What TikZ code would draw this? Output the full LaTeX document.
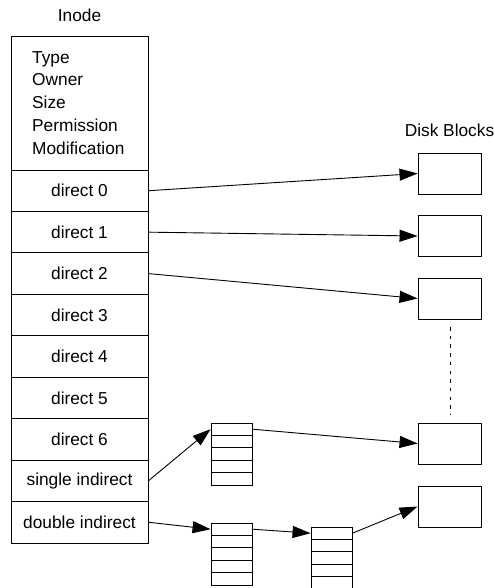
\documentclass[tikz,border=0pt]{standalone}
\usepackage{fontspec}
\setmainfont{Liberation Sans}
\usetikzlibrary{arrows.meta}
\begin{document}
\begin{tikzpicture}[x=1pt,y=-1pt,
  every node/.style={font=\fontsize{17.3}{20}\selectfont, inner sep=0pt},
  line/.style={line width=0.9pt},
  rowbox/.style={draw, line width=0.9pt, minimum width=137pt, minimum height=41.44pt},
  diskbox/.style={draw, line width=0.9pt, minimum width=63pt, minimum height=41pt},
  cell/.style={draw, line width=0.9pt, minimum width=41pt, minimum height=12.4pt},
  arr/.style={line width=0.9pt, -{Triangle[length=18pt,width=12pt]}},
  txt/.style={anchor=base west}
]
\useasboundingbox (0,0) rectangle (493,588);

% labels
\node[anchor=base] (inodelbl) at (79.5,22) {Inode};
\node[anchor=base] (disklbl) at (449.5,137) {Disk Blocks};

% inode header
\node[draw, line width=0.9pt, minimum width=137pt, minimum height=134pt, anchor=north west] (hdr) at (11,36) {};
\node[txt] (t1) at (32,63.3) {Type};
\node[txt] (t2) at (32,86) {Owner};
\node[txt] (t3) at (32,108.8) {Size};
\node[txt] (t4) at (32,131.6) {Permission};
\node[txt] (t5) at (32,154.3) {Modification};

% inode rows
\node[rowbox] (r0) at (79.5,190.72) {direct 0};
\node[rowbox] (r1) at (79.5,232.16) {direct 1};
\node[rowbox] (r2) at (79.5,273.60) {direct 2};
\node[rowbox] (r3) at (79.5,315.04) {direct 3};
\node[rowbox] (r4) at (79.5,356.48) {direct 4};
\node[rowbox] (r5) at (79.5,397.92) {direct 5};
\node[rowbox] (r6) at (79.5,439.36) {direct 6};
\node[rowbox] (r7) at (79.5,480.80) {single indirect};
\node[rowbox] (r8) at (79.5,522.24) {double indirect};

% disk blocks
\node[diskbox] (b1) at (449.5,173.5) {};
\node[diskbox] (b2) at (449.5,236) {};
\node[diskbox] (b3) at (449.5,298.5) {};
\node[diskbox] (b4) at (449.5,443.5) {};
\node[diskbox] (b5) at (449.5,506.5) {};

\coordinate (dtop) at (450,327);
\coordinate (dbot) at (450,415);
\draw[line width=0.9pt, dash pattern=on 3.5pt off 5.2pt] (dtop) -- (dbot);

% single indirect block
\foreach \i/\y in {1/429.2,2/441.6,3/454.0,4/466.4,5/478.8}
  \node[cell] (s\i) at (231.5,\y) {};
% double indirect first block
\foreach \i/\y in {1/529.2,2/541.6,3/554.0,4/566.4,5/578.8}
  \node[cell] (d\i) at (231.5,\y) {};
% double indirect second block
\foreach \i/\y in {1/533.2,2/545.6,3/558.0,4/570.4,5/582.8}
  \node[cell] (e\i) at (331.5,\y) {};

% arrows
\draw[arr] (r0.east) -- (b1.west);
\draw[arr] (r1.east) -- (b2.west);
\draw[arr] (r2.east) -- (b3.west);
\draw[arr] (r7.east) -- (s1.west);
\draw[arr] (s1.east) -- (b4.west);
\draw[arr] (r8.east) -- (d1.west);
\draw[arr] (d1.east) -- (e1.west);
\draw[arr] (e1.east) -- (b5.west);
\end{tikzpicture}
\end{document}
